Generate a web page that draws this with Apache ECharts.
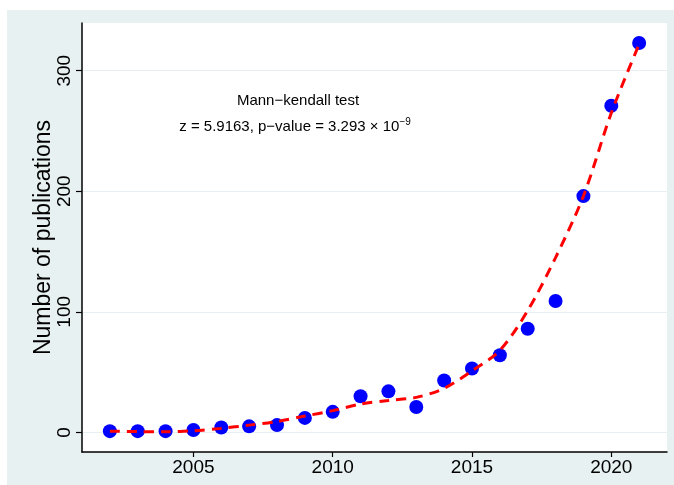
<!DOCTYPE html>
<html>
<head>
<meta charset="utf-8">
<script src="https://cdn.jsdelivr.net/npm/echarts@6/dist/echarts.min.js"></script>
<style>
  html, body { margin: 0; padding: 0; background: #ffffff; }
  #chart { width: 674px; height: 485px; }
</style>
</head>
<body>
<div id="chart"></div>
<script>
// Annual publication counts and the fitted trend curve
const years = [2002, 2003, 2004, 2005, 2006, 2007, 2008, 2009, 2010, 2011,
               2012, 2013, 2014, 2015, 2016, 2017, 2018, 2019, 2020, 2021];
const publications = [1, 1, 1, 2, 4, 5, 6, 12, 17, 30,
                      34, 21, 43, 53, 64, 86, 109, 196, 271, 323];
const trendFit = [1.0, 0.6, 0.5, 1.3, 3.3, 6, 9, 13.5, 18, 23.5,
                  26.5, 29, 36.5, 51, 68, 101, 145, 196, 265, 322];
const xTicks = [2005, 2010, 2015, 2020];
const yTicks = [0, 100, 200, 300];
const testTitle = 'Mann\u2212kendall test';
const testStat = 'z = 5.9163, p\u2212value = 3.293 \u00d7 10';
const testExp = '\u22129';

const FONT = '"Liberation Sans", Arial, Helvetica, sans-serif';
const BG = '#e8f1f2';

const chart = echarts.init(document.getElementById('chart'), null, { renderer: 'canvas' });

const option = {
  backgroundColor: '#ffffff',
  animation: false,
  textStyle: { fontFamily: FONT },
  graphic: [
    {
      type: 'rect', z: -100, silent: true,
      shape: { x: 7, y: 10, width: 667, height: 475 },
      style: { fill: BG }
    },
    {
      type: 'text', z: 100, silent: true,
      style: {
        x: 298, y: 101, text: testTitle,
        font: '15px ' + FONT, fill: '#000',
        textAlign: 'center', textVerticalAlign: 'middle'
      }
    },
    {
      type: 'text', z: 100, silent: true,
      style: {
        x: 295, y: 127,
        text: '{a|' + testStat + '}{s|' + testExp + '}',
        textAlign: 'center', textVerticalAlign: 'middle',
        rich: {
          a: { fontSize: 15, fontFamily: FONT, color: '#000', lineHeight: 19 },
          s: { fontSize: 10, fontFamily: FONT, color: '#000', lineHeight: 19, verticalAlign: 'top' }
        }
      }
    }
  ],
  grid: {
    left: 82, right: 7, top: 23, bottom: 33,
    show: true, backgroundColor: '#ffffff', borderWidth: 0,
    containLabel: false
  },
  xAxis: {
    type: 'value',
    min: 2001, max: 2022,
    axisLine: { show: true, onZero: false, lineStyle: { color: '#000', width: 1.5 } },
    axisTick: { show: true, length: 5, customValues: xTicks, lineStyle: { color: '#000', width: 1.2 } },
    axisLabel: {
      customValues: xTicks, margin: 6,
      formatter: v => String(v),
      fontSize: 19, color: '#000', fontFamily: FONT
    },
    splitLine: { show: false }
  },
  yAxis: {
    type: 'value',
    min: -16.3, max: 339.6,
    name: 'Number of publications',
    nameLocation: 'middle', nameRotate: 90, nameGap: 27,
    nameMoveOverlap: false,
    nameTextStyle: { fontSize: 23, color: '#000', fontFamily: FONT },
    axisLine: { show: true, onZero: false, lineStyle: { color: '#000', width: 1.5 } },
    axisTick: { show: true, length: 6, customValues: yTicks, lineStyle: { color: '#000', width: 1.2 } },
    axisLabel: {
      customValues: yTicks, rotate: 90, margin: 8,
      formatter: v => String(v),
      fontSize: 19, color: '#000', fontFamily: FONT
    },
    splitLine: { show: false }
  },
  series: [
    {
      name: 'Publications',
      type: 'scatter',
      z: 2,
      symbol: 'circle', symbolSize: 14,
      itemStyle: { color: '#0000ff', opacity: 1 },
      data: years.map((y, i) => [y, publications[i]]),
      markLine: {
        silent: true, symbol: 'none', z: 0,
        label: { show: false },
        lineStyle: { color: '#e6eff1', width: 1.2, type: 'solid' },
        data: yTicks.map(v => ({ yAxis: v }))
      }
    },
    {
      name: 'Trend',
      type: 'line',
      z: 3,
      smooth: 0.3,
      showSymbol: false,
      lineStyle: { color: '#ff0000', width: 3, type: [10, 7] },
      data: years.map((y, i) => [y, trendFit[i]])
    }
  ]
};

chart.setOption(option);
</script>
</body>
</html>
